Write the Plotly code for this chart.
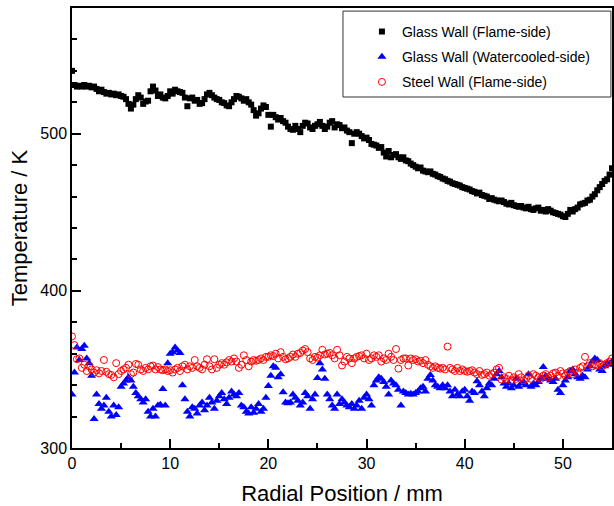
import plotly.graph_objects as go

# Radial position (mm)
radial_mm = [
    0.0, 0.25, 0.5, 0.75, 1.0, 1.25, 1.5, 1.75, 2.0, 2.25, 2.5, 2.75, 3.0, 3.25, 3.5, 3.75, 4.0, 4.25, 4.5, 4.75,
    5.0, 5.25, 5.5, 5.75, 6.0, 6.25, 6.5, 6.75, 7.0, 7.25, 7.5, 7.75, 8.0, 8.25, 8.5, 8.75, 9.0, 9.25, 9.5, 9.75,
    10.0, 10.25, 10.5, 10.75, 11.0, 11.25, 11.5, 11.75, 12.0, 12.25, 12.5, 12.75, 13.0, 13.25, 13.5, 13.75, 14.0, 14.25, 14.5, 14.75,
    15.0, 15.25, 15.5, 15.75, 16.0, 16.25, 16.5, 16.75, 17.0, 17.25, 17.5, 17.75, 18.0, 18.25, 18.5, 18.75, 19.0, 19.25, 19.5, 19.75,
    20.0, 20.25, 20.5, 20.75, 21.0, 21.25, 21.5, 21.75, 22.0, 22.25, 22.5, 22.75, 23.0, 23.25, 23.5, 23.75, 24.0, 24.25, 24.5, 24.75,
    25.0, 25.25, 25.5, 25.75, 26.0, 26.25, 26.5, 26.75, 27.0, 27.25, 27.5, 27.75, 28.0, 28.25, 28.5, 28.75, 29.0, 29.25, 29.5, 29.75,
    30.0, 30.25, 30.5, 30.75, 31.0, 31.25, 31.5, 31.75, 32.0, 32.25, 32.5, 32.75, 33.0, 33.25, 33.5, 33.75, 34.0, 34.25, 34.5, 34.75,
    35.0, 35.25, 35.5, 35.75, 36.0, 36.25, 36.5, 36.75, 37.0, 37.25, 37.5, 37.75, 38.0, 38.25, 38.5, 38.75, 39.0, 39.25, 39.5, 39.75,
    40.0, 40.25, 40.5, 40.75, 41.0, 41.25, 41.5, 41.75, 42.0, 42.25, 42.5, 42.75, 43.0, 43.25, 43.5, 43.75, 44.0, 44.25, 44.5, 44.75,
    45.0, 45.25, 45.5, 45.75, 46.0, 46.25, 46.5, 46.75, 47.0, 47.25, 47.5, 47.75, 48.0, 48.25, 48.5, 48.75, 49.0, 49.25, 49.5, 49.75,
    50.0, 50.25, 50.5, 50.75, 51.0, 51.25, 51.5, 51.75, 52.0, 52.25, 52.5, 52.75, 53.0, 53.25, 53.5, 53.75, 54.0, 54.25, 54.5, 54.75,
    55.0,
]

# Glass wall, flame side (K)
glass_flame_K = [
    540, 531, 530, 530.5, 530, 531, 530, 530.5, 529.5, 530, 528.5, 527, 528, 526.5, 525.5, 526, 525, 525.5, 524.5, 525,
    524, 523.5, 522, 519, 516, 518.5, 522, 524.5, 523, 519, 520.5, 521, 527, 530, 527.5, 524, 525, 523, 522.5, 524,
    527, 525.5, 528, 527, 526.5, 526, 523, 517.5, 522.5, 523, 521, 521.5, 519, 519.5, 522, 525, 526, 524.5, 523, 522,
    521.5, 520, 519.5, 518, 517.5, 520, 522, 524, 523.5, 522.5, 521, 522, 520, 518.5, 515, 511.5, 513, 516, 518, 517,
    512, 504.5, 512, 510.5, 509, 510, 508, 507, 504.5, 503, 502.5, 505, 503, 501, 505, 507, 506.5, 504, 503, 505,
    506, 507.5, 505, 503, 504.5, 507, 508, 504, 506, 505.5, 503.5, 504, 502, 501, 494, 500, 501, 500, 498.5, 497,
    497.5, 496, 493.5, 493, 492.5, 491, 491.5, 488, 485.5, 489, 485, 486.5, 487, 485, 484, 485, 483, 482.5, 481, 480,
    479, 478, 478.5, 476.5, 476, 475.5, 476, 474.5, 474, 473, 472.5, 471.5, 471, 470, 469.5, 468.5, 468, 467.5, 467, 466,
    465.5, 465, 464.5, 463.5, 463, 462, 462.5, 461, 460.5, 460, 458.5, 459, 458, 457.5, 457, 457.5, 456.5, 455.5, 455, 456,
    454.5, 454, 453.5, 454, 453, 452.5, 453.5, 452, 451.5, 452.5, 453, 451, 451.5, 450.5, 452, 451, 450, 449.5, 449, 448.5,
    447.5, 447, 449, 451.5, 450.5, 452, 453, 455, 455.5, 456, 457.5, 458, 460, 461.5, 464, 466, 468, 470, 471, 474,
    478,
]

# Glass wall, watercooled side (K)
glass_water_K = [
    334, 348, 364, 356, 363, 365, 357, 354, 346, 318.5, 334, 328, 325, 327, 332, 323, 320, 327, 321, 326,
    339, 341, 343, 345, 343, 339, 335, 333, 331, 329, 331, 323, 320, 325, 320, 327, 327.5, 337.5, 327, 354,
    360, 361, 364, 362, 360.5, 340, 331, 323, 320, 326, 325, 322, 327, 329, 324, 327, 332, 329, 325, 330,
    333, 335, 331, 328, 332, 336, 334, 333, 335, 327, 326, 323, 322, 326, 322.5, 325, 328, 323, 325, 332,
    339.5, 346, 352, 351, 345, 347, 335.5, 329, 328.5, 329, 334, 332, 330, 327, 329, 335, 333, 325, 331, 334,
    344.5, 354, 350, 344, 334, 331, 327, 325, 334, 328, 331, 329, 327, 326, 328, 325, 327, 330, 325, 332,
    334, 331, 327, 340, 343, 345, 344, 342, 339, 334, 343, 341, 340, 337, 327, 336, 335, 334, 334.5, 334,
    335, 336, 338, 339, 336, 344, 346.5, 343, 340, 339, 338, 340, 338, 340, 336, 333, 337, 334, 333, 336,
    337, 333, 330, 336, 335, 342.5, 340, 336, 333, 338, 341, 340, 344, 347, 349, 345, 341, 339, 341, 338,
    340, 344, 339, 341, 342, 340, 347, 339, 341, 340, 342, 344, 351.5, 346, 344, 343, 342, 344, 337, 335,
    340, 343, 345, 349, 350, 347, 345, 344, 346, 345, 350, 352, 355, 357, 356, 350, 349, 352, 354, 353,
    355,
]

# Steel wall, flame side (K)
steel_flame_K = [
    371, 365.5, 356.5, 357, 351, 353, 349, 352, 350, 348, 349.5, 347.5, 349, 356, 348.5, 347, 346.5, 345, 354, 347,
    349, 350, 351, 353, 347, 348, 353.5, 353, 350, 349, 351, 350, 352, 352.5, 350, 351.5, 350, 349.5, 350, 349,
    349.5, 348, 350, 351, 349, 352, 353, 350, 352, 351, 356, 352, 351, 350, 353, 356.5, 352, 350, 356.5, 351,
    353, 354, 353, 354.5, 356, 355, 357, 355, 351, 353, 359, 356, 352, 355, 356, 355.5, 356, 357, 356, 358,
    358, 359, 358.5, 360, 357, 361, 358, 356.5, 357, 358, 359.5, 358, 360, 360.5, 362, 363, 361, 357, 356, 358,
    357.5, 359, 362.5, 359.5, 360, 360.5, 359, 357, 362.5, 359, 352.5, 355, 358, 357, 354, 357, 358, 358.5, 359, 357,
    360, 356, 357, 359, 358, 359, 355, 357, 356, 360, 358, 356, 363, 350.5, 356, 357, 357, 352.5, 357, 356,
    356.5, 355, 355.5, 354, 356, 353, 352, 351, 352, 351, 350.5, 351, 350, 364.5, 351, 350, 349, 351, 349, 350,
    349, 348.5, 349, 349.5, 348, 347, 349, 346.5, 347, 348, 346, 347, 348, 350, 351, 343.5, 345, 344, 346, 343,
    345, 344, 347, 345, 343, 344, 346, 344, 347, 346, 345, 344, 346, 347, 345, 346, 347.5, 348, 346, 349,
    347.5, 346, 348, 349, 347, 350, 348, 351, 352, 358, 352, 354, 352, 353, 352.5, 354, 352, 353, 354, 355,
    357,
]

series_names = [
    "Glass Wall (Flame-side)",
    "Glass Wall (Watercooled-side)",
    "Steel Wall (Flame-side)",
]

FONT = "Arial, Liberation Sans, sans-serif"

fig = go.Figure()
fig.add_trace(go.Scatter(
    x=radial_mm, y=glass_flame_K, mode="markers", name=series_names[0],
    legendgroup="a",
    marker=dict(symbol="square", size=6, color="black", line=dict(width=0)),
))
fig.add_trace(go.Scatter(
    x=radial_mm, y=glass_water_K, mode="markers", name=series_names[1],
    legendgroup="b",
    marker=dict(symbol="triangle-up", size=8, color="#0000ff", line=dict(width=0)),
))
fig.add_trace(go.Scatter(
    x=radial_mm, y=steel_flame_K, mode="markers", name=series_names[2],
    legendgroup="c",
    marker=dict(symbol="circle-open", size=7, color="#ff0000", line=dict(width=1, color="#ff0000")),
))

axis_common = dict(
    showgrid=False, zeroline=False,
    showline=True, linecolor="black", linewidth=1.5, mirror=True,
    ticks="inside", ticklen=9, tickwidth=1.5, tickcolor="black",
    tickfont=dict(family=FONT, size=16, color="black"),
)

fig.update_xaxes(
    range=[0, 55], dtick=10, tick0=0,
    minor=dict(dtick=5, ticks="inside", ticklen=5, tickwidth=1.5, tickcolor="black"),
    title=dict(text="Radial Position / mm", font=dict(family=FONT, size=22, color="black"), standoff=18),
    **axis_common,
)
fig.update_yaxes(
    range=[300, 580], dtick=100, tick0=300,
    minor=dict(dtick=20, ticks="inside", ticklen=5, tickwidth=1.5, tickcolor="black"),
    title=dict(text="Temperature / K", font=dict(family=FONT, size=22, color="black"), standoff=7),
    **axis_common,
)

# legend frame (paper coordinates)
fig.add_shape(
    type="rect", xref="paper", yref="paper",
    x0=0.5018, x1=0.998, y0=0.7977, y1=0.993,
    line=dict(color="#333333", width=1), fillcolor="white", layer="above",
)

fig.update_layout(
    width=614, height=506,
    margin=dict(l=72, r=0, t=8, b=58),
    paper_bgcolor="white", plot_bgcolor="white",
    font=dict(family=FONT, color="black"),
    showlegend=True,
    legend=dict(
        x=0.5369, xanchor="left", y=0.982, yanchor="top",
        bgcolor="rgba(0,0,0,0)", borderwidth=0,
        font=dict(family=FONT, size=14, color="black"),
        tracegroupgap=4,
    ),
)

fig.write_html(
    "out.html",
    config={"displayModeBar": False},
    post_script="document.body.style.margin='0';document.body.style.padding='0';",
)
